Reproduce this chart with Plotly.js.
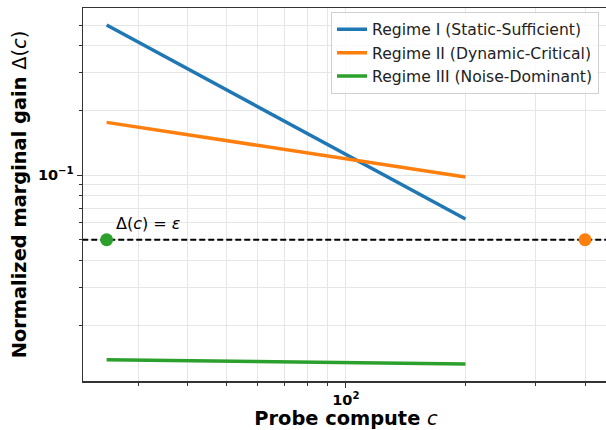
<!DOCTYPE html>
<html>
<head>
<meta charset="utf-8">
<script src="https://cdn.plot.ly/plotly-3.0.1.min.js"></script>
<style>html,body{margin:0;padding:0;background:#fff;overflow:hidden;}</style>
</head>
<body>
<div id="chart" style="width:606px;height:430px;overflow:hidden;"></div>
<script>
// ---- data ----
const computeX = [25, 50, 100, 200];
const regimeI = [0.5, 0.25, 0.125, 0.0625];
const regimeII = [0.176, 0.145, 0.120, 0.098];
const regimeIII = [0.0138, 0.0136, 0.0134, 0.0132];
const epsilon = 0.05;
const stopX = [25, 400];
const stopColors = ['#2ca02c', '#ff7f0e'];
const seriesNames = ['Regime I (Static-Sufficient)', 'Regime II (Dynamic-Critical)', 'Regime III (Noise-Dominant)'];
const seriesColors = ['#1f77b4', '#ff7f0e', '#2ca02c'];
const xMajorTicks = [100];
const xMajorText = ['<b>10<sup>2</sup></b>'];
const xMinorTicks = [30, 40, 50, 60, 70, 80, 90, 200, 300, 400];
const yMajorTicks = [0.1];
const yMajorText = ['<b>10<sup>\u22121</sup></b>'];
const yMinorTicks = [0.02, 0.03, 0.04, 0.05, 0.06, 0.07, 0.08, 0.09, 0.2, 0.3, 0.4, 0.5];

const font = 'DejaVu Sans, sans-serif';
const series = [regimeI, regimeII, regimeIII];
const traces = series.map((ys, i) => ({
  x: computeX, y: ys, type: 'scatter', mode: 'lines', name: seriesNames[i],
  line: {color: seriesColors[i], width: 3.5}
}));
traces.push({
  x: [1, 100000], y: [epsilon, epsilon], type: 'scatter', mode: 'lines',
  showlegend: false, hoverinfo: 'skip',
  line: {color: '#000', width: 2, dash: '6px,3px'}
});
traces.push({
  x: stopX, y: stopX.map(() => epsilon), type: 'scatter', mode: 'markers',
  showlegend: false, cliponaxis: false,
  marker: {color: stopColors, size: 13}
});

const gridColor = '#e6e6e6';
const layout = {
  width: 609, height: 430,
  margin: {l: 83, r: 0, t: 8, b: 49},
  paper_bgcolor: '#fff', plot_bgcolor: '#fff',
  font: {family: font, color: '#000'},
  showlegend: true,
  legend: {
    x: 0.981, y: 0.99, xanchor: 'right', yanchor: 'top',
    bgcolor: 'rgba(255,255,255,0.8)', bordercolor: '#d0d0d0', borderwidth: 1,
    font: {family: font, size: 15.6, color: '#222'}, tracegroupgap: 0
  },
  xaxis: {
    type: 'log', range: [Math.log10(21.8), Math.log10(459.6)],
    tickmode: 'array', tickvals: xMajorTicks, ticktext: xMajorText,
    ticks: 'outside', ticklen: 5, tickcolor: '#333',
    tickfont: {family: font, size: 14.5, color: '#000'},
    showgrid: true, gridcolor: gridColor, gridwidth: 1,
    minor: {tickmode: 'array', tickvals: xMinorTicks, ticks: 'outside', ticklen: 3, tickcolor: '#333', showgrid: true, gridcolor: gridColor, gridwidth: 1},
    showline: true, linecolor: '#333', linewidth: 1.5, mirror: true,
    zeroline: false,
    title: {text: '<b>Probe compute </b><i>c</i>', font: {family: font, size: 19.4, color: '#000'}, standoff: 7}
  },
  yaxis: {
    type: 'log', range: [Math.log10(0.011), Math.log10(0.6)],
    tickmode: 'array', tickvals: yMajorTicks, ticktext: yMajorText,
    ticks: 'outside', ticklen: 5, tickcolor: '#333',
    tickfont: {family: font, size: 14.5, color: '#000'},
    showgrid: true, gridcolor: gridColor, gridwidth: 1,
    minor: {tickmode: 'array', tickvals: yMinorTicks, ticks: 'outside', ticklen: 3, tickcolor: '#333', showgrid: true, gridcolor: gridColor, gridwidth: 1},
    showline: true, linecolor: '#333', linewidth: 1.5, mirror: false,
    zeroline: false,
    title: {text: '<b>Normalized marginal gain </b>\u0394(<i>c</i>)', font: {family: font, size: 19.4, color: '#000'}, standoff: 6}
  },
  annotations: [{
    x: Math.log10(26.1), y: Math.log10(0.0596), xref: 'x', yref: 'y',
    text: '\u0394(<i>c</i>) = <i>\u03b5</i>', showarrow: false,
    xanchor: 'left', yanchor: 'middle',
    font: {family: font, size: 16, color: '#000'}
  }]
};

Plotly.newPlot('chart', traces, layout, {displayModeBar: false, staticPlot: true});
</script>
</body>
</html>
